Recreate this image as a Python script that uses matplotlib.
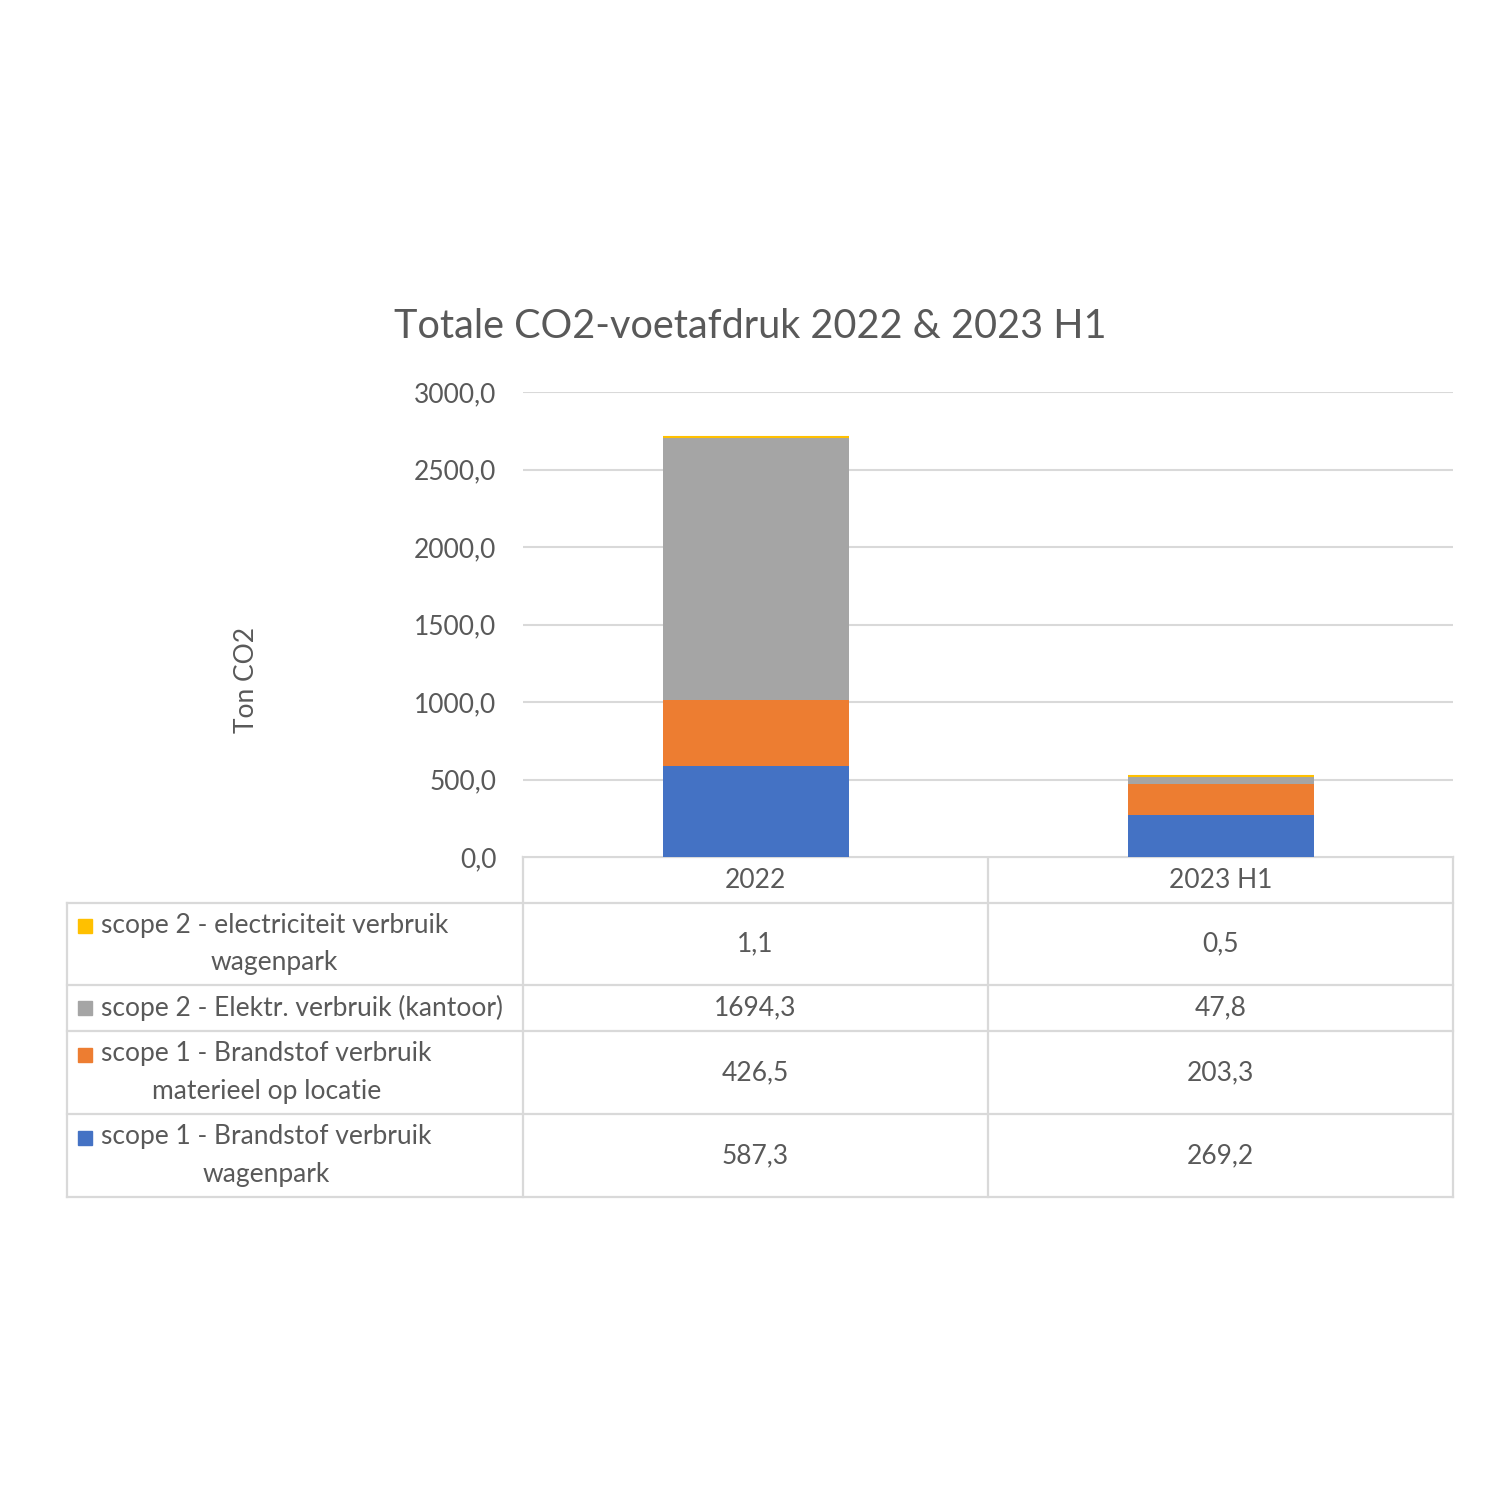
import matplotlib.pyplot as plt
import numpy as np

plt.rcParams['font.family'] = ['Lato', 'DejaVu Sans']

categories = ['2022', '2023 H1']
series_names = ['scope 1 - Brandstof verbruik\nwagenpark',
                'scope 1 - Brandstof verbruik\nmaterieel op locatie',
                'scope 2 - Elektr. verbruik (kantoor)',
                'scope 2 - electriciteit verbruik\nwagenpark']
series_values = [[587.3, 269.2],
                 [426.5, 203.3],
                 [1694.3, 47.8],
                 [1.1, 0.5]]
value_labels = [['587,3', '269,2'],
                ['426,5', '203,3'],
                ['1694,3', '47,8'],
                ['1,1', '0,5']]
colors = ['#4472C4', '#ED7D31', '#A5A5A5', '#FFC000']
yticks = [0, 500, 1000, 1500, 2000, 2500, 3000]

text_col = '#595959'
grid_col = '#D9D9D9'
fs = 19

fig = plt.figure(figsize=(15, 15), dpi=100)

# chart area in pixels: x 523..1453, y 392..857
ax = fig.add_axes([523 / 1500, 1 - 857 / 1500, 930 / 1500, 465 / 1500])
x = np.arange(len(categories))
bottom = np.zeros(len(categories))
for i, (vals, c) in enumerate(zip(series_values, colors)):
    # thin edge on the tiny top series so it stays visible
    edge_lw = 1.5 if i == len(series_values) - 1 else 0
    ax.bar(x, vals, width=0.4, bottom=bottom, color=c, edgecolor=c,
           linewidth=edge_lw, zorder=3)
    bottom += np.array(vals)

ax.set_xlim(-0.5, len(categories) - 0.5)
ax.set_ylim(0, 3000)
ax.set_yticks(yticks)
ax.set_yticklabels(['{:.1f}'.format(t).replace('.', ',') for t in yticks])
ax.set_xticks([])
ax.tick_params(axis='y', length=0, pad=19, labelsize=fs, labelcolor=text_col)
ax.grid(axis='y', color=grid_col, linewidth=1.5, zorder=0)
for s in ax.spines.values():
    s.set_visible(False)

fig.text(750 / 1500, 1 - 327 / 1500, 'Totale CO2-voetafdruk 2022 & 2023 H1',
         ha='center', va='center', fontsize=28.5, color=text_col)
fig.text(247 / 1500, 1 - 680 / 1500, 'Ton CO2', rotation=90,
         ha='center', va='center', fontsize=fs, color=text_col)

# data table underneath, drawn in pixel coordinates
tx = fig.add_axes([0, 0, 1, 1], zorder=-1)
tx.set_xlim(0, 1500)
tx.set_ylim(1500, 0)
tx.axis('off')

col_x = [523, 988, 1453]
row_y = [903, 985, 1031, 1114, 1197]
lw = 1.6
tx.plot([523, 1453], [857, 857], color=grid_col, lw=lw)
for yy in row_y:
    tx.plot([67, 1453], [yy, yy], color=grid_col, lw=lw)
tx.plot([67, 67], [903, 1197], color=grid_col, lw=lw)
for xx in col_x:
    tx.plot([xx, xx], [857, 1197], color=grid_col, lw=lw)

col_centers = [(col_x[i] + col_x[i + 1]) / 2 for i in range(len(categories))]
for cx, cat in zip(col_centers, categories):
    tx.text(cx, 880, cat, ha='center', va='center', fontsize=fs, color=text_col)

# table rows go top to bottom in reverse stacking order
for r, idx in enumerate(range(len(series_names) - 1, -1, -1)):
    y0, y1 = row_y[r], row_y[r + 1]
    yc = (y0 + y1) / 2
    name = series_names[idx]
    nlines = name.count('\n') + 1
    first_y = yc - (nlines - 1) * 18
    tx.plot(85, first_y, marker='s', ms=10, color=colors[idx], ls='none')
    tx.text(101, yc, name, ha='left', va='center', multialignment='center',
            fontsize=fs, color=text_col, linespacing=1.62)
    for cx, lab in zip(col_centers, value_labels[idx]):
        tx.text(cx, yc, lab, ha='center', va='center', fontsize=fs, color=text_col)

fig.savefig('out.png', dpi=100, facecolor='white')
